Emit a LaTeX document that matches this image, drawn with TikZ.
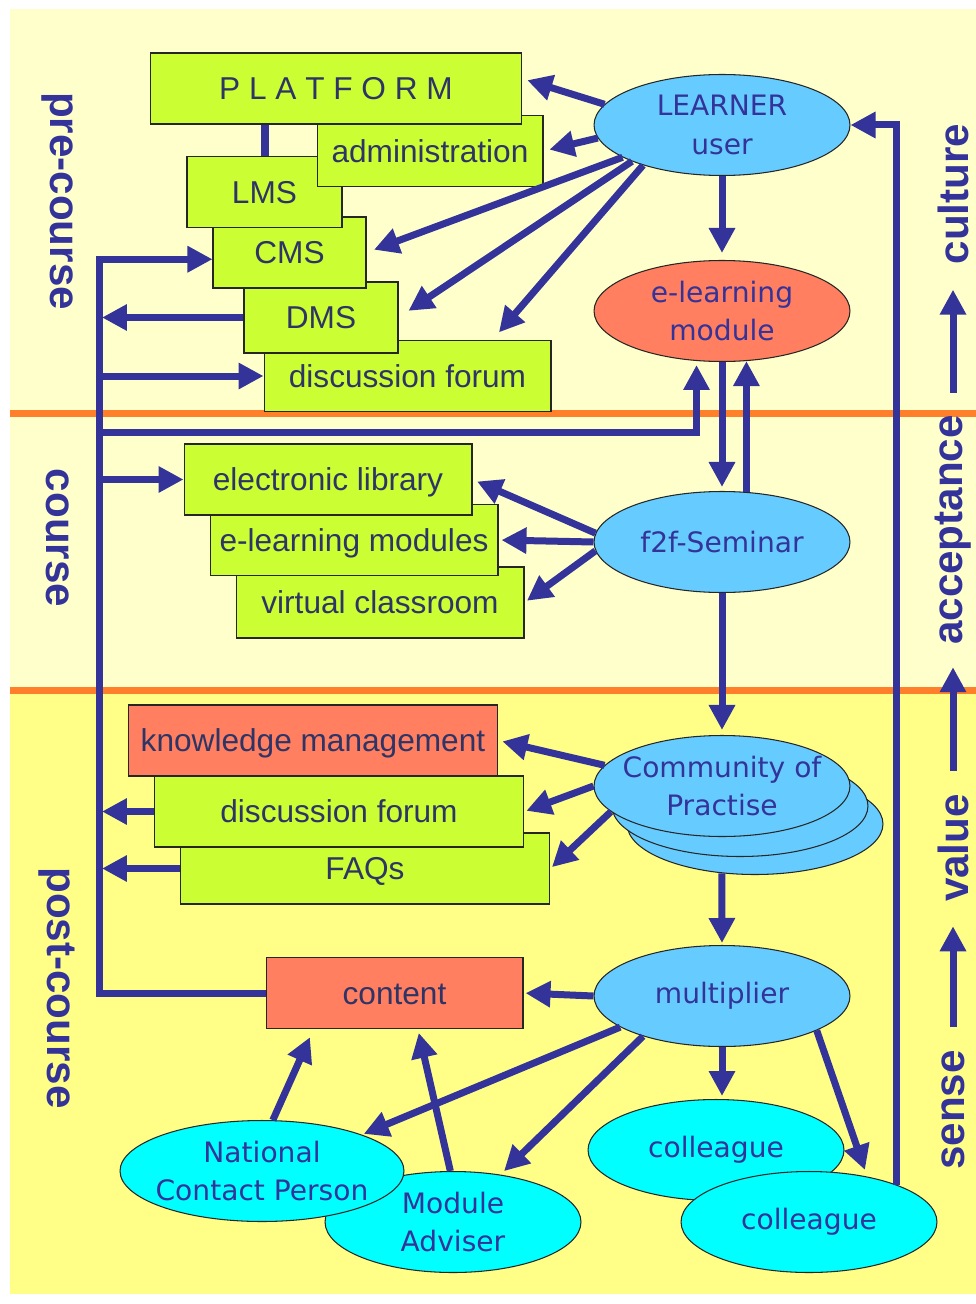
\documentclass[tikz,border=0pt]{standalone}
\usepackage{fontspec}
\setmainfont{Liberation Sans}
\newfontfamily\ovalfont{DejaVu Sans}
\usetikzlibrary{arrows.meta,shapes.geometric,calc}
\definecolor{flowblue}{HTML}{333399}
\definecolor{boxtext}{HTML}{2E3566}
\definecolor{limegreen}{HTML}{CCFF33}
\definecolor{coralbox}{HTML}{FF7F60}
\definecolor{skyoval}{HTML}{66CCFF}
\definecolor{aquaoval}{HTML}{00FFFF}
\definecolor{paleband}{HTML}{FFFFCC}
\definecolor{deepband}{HTML}{FFFF88}
\definecolor{divider}{HTML}{FF7F2A}

\begin{document}
\begin{tikzpicture}[
  x=0.02cm, y=-0.02cm,
  tool/.style={draw=black!85, fill=limegreen, line width=0.6pt, text=boxtext,
    font=\fontsize{18}{22}\selectfont, text height=13pt, text depth=0pt,
    inner sep=0pt, minimum height=1.42cm},
  hot/.style={tool, fill=coralbox},
  actor/.style={ellipse, draw=black!85, fill=skyoval, line width=0.6pt, text=flowblue,
    font=\ovalfont\fontsize{16}{22}\selectfont, align=center,
    inner xsep=-0.6cm, inner ysep=-0.1cm, minimum width=5.12cm, minimum height=2.02cm},
  guest/.style={actor, fill=aquaoval},
  flow/.style={draw=flowblue, line width=0.14cm, -{Triangle[length=0.5cm, width=0.5cm]}},
  phase/.style={text=flowblue, font=\fontsize{24}{28}\selectfont\bfseries, inner sep=0pt},
]
\useasboundingbox (0,0) rectangle (976,1304);
% page and the three bands
\fill[white] (0,0) rectangle (976,1304);
\fill[paleband] (10,9) rectangle (976,690);
\fill[deepband] (10,690) rectangle (976,1294);
\draw[divider, line width=0.14cm] (10,413) -- (976,413);
\draw[divider, line width=0.14cm] (10,690) -- (976,690);

% phases (left) and stages (right)
\node[phase, rotate=-90] (pre) at (57,201) {pre-course};
\node[phase, rotate=-90] (course) at (58,538) {course};
\node[phase, rotate=-90] (post) at (57,988) {post-course};
\node[phase, rotate=90] (culture) at (953,194) {culture};
\node[phase, rotate=90] (accept) at (953,530) {acceptance};
\node[phase, rotate=90] (value) at (953,848) {value};
\node[phase, rotate=90] (sense) at (953,1110) {sense};

% platform stack (back to front)
\node[tool, minimum width=5.74cm] (forumA) at (407.5,376) {discussion forum};
\node[tool, minimum width=3.08cm] (dms) at (321,317.5) {DMS};
\node[tool, minimum width=3.06cm] (cms) at (289.5,252.5) {CMS};
\node[tool, minimum width=3.10cm] (lms) at (264.5,192) {LMS};
\node[tool, minimum width=4.52cm] (admin) at (430,151) {administration};
\node[tool, minimum width=7.44cm] (platform) at (336,88.5) {P L A T F O R M};

% course stack
\node[tool, minimum width=5.76cm] (vclass) at (380,602.5) {virtual classroom};
\node[tool, minimum width=5.76cm] (elmods) at (354,540) {e-learning modules};
\node[tool, minimum width=5.76cm] (elib) at (328,479.5) {electronic library};

% post-course stack
\node[tool, minimum width=7.40cm] (faq) at (365,868.5) {FAQs};
\node[tool, minimum width=7.40cm] (forumB) at (339,811.5) {discussion forum};
\node[hot, minimum width=7.40cm] (km) at (313,740.5) {knowledge management};
\node[hot, minimum width=5.14cm] (content) at (394.5,993) {content};

% people and events
\node[actor] (learner) at (722,125) {LEARNER\\user};
\node[actor, fill=coralbox] (module) at (722,311) {e-learning\\module};
\node[actor] (seminar) at (722,542) {f2f-Seminar};
\node[actor] (cop3) at (755,824) {};
\node[actor] (cop2) at (740,806) {};
\node[actor] (cop) at (722,786) {Community of\\Practise};
\node[actor] (mult) at (722,996) {multiplier};
\node[guest] (peer1) at (716,1150) {colleague};
\node[guest] (peer2) at (809,1222) {colleague};
\node[guest] (adviser) at (453,1222) {Module\\Adviser};
\node[guest, minimum width=5.68cm] (ncp) at (262,1171) {National\\Contact Person};

\draw[flowblue, line width=0.16cm] (platform.south -| lms.north) -- (lms.north);

% learner fan
\draw[flow, shorten >=0.1cm] (learner.170) -- (platform.3);
\draw[flow, shorten >=0.12cm] (learner.186) -- (admin.east);
\draw[flow, shorten >=0.16cm] (learner.198) -- (cms.east);
\draw[flow, shorten >=0.24cm] (learner.202) -- (dms.east);
\draw[flow, shorten >=0.2cm] (learner.207) -- (forumA.23);
\draw[flow, shorten >=0.14cm] (learner.south) -- (module.north);
\draw[flow, shorten >=0.08cm] (module.south) -- (seminar.north);
\draw[flow] (seminar.64) -- (module.296);

% seminar fan
\draw[flow, shorten >=0.1cm] (seminar.176) -- (elib.east);
\draw[flow, shorten >=0.06cm] (seminar.west) -- (elmods.east);
\draw[flow, shorten >=0.06cm] (seminar.184) -- (vclass.east);
\draw[flow, shorten >=0.1cm] (seminar.south) -- (cop.north);

% community fan
\draw[flow, shorten >=0.08cm] (cop.170) -- (km.east);
\draw[flow, shorten >=0.04cm] (cop.west) -- (forumB.east);
\draw[flow, shorten >=0.04cm] (cop.193) -- (faq.east);
\draw[flow, shorten >=0.04cm] (cop3.236) -- (mult.north);

% multiplier fan
\draw[flow, shorten >=0.04cm] (mult.west) -- (content.east);
\draw[flow, shorten >=0.06cm] (mult.south) -- (mult.south |- peer1.north);
\draw[flow, shorten >=0.14cm] (mult.340) -- (peer2.38);
\draw[flow, shorten >=0.04cm] (mult.197) -- (ncp.20);
\draw[flow, shorten >=0.1cm] (mult.207) -- (adviser.45);
\draw[flow, shorten >=0.18cm] (ncp.78) -- (content.204);
\draw[flow, shorten >=0.08cm] (adviser.93) -- (content.303);

% content bus on the left
\coordinate (bus) at (99,993);
\coordinate (split) at (99,432);
\draw[flow] (content.west) -- (bus) |- (cms.185);
\draw[flow] (bus |- forumA.west) -- (forumA.west);
\draw[flow] (bus |- elib.west) -- (elib.west);
\draw[flow, shorten >=0.08cm] (split) -| (module.243);
\draw[flow, shorten >=0.06cm] (dms.west) -- (bus |- dms.west);
\draw[flow, shorten >=0.06cm] (forumB.west) -- (bus |- forumB.west);
\draw[flow, shorten >=0.06cm] (faq.west) -- (bus |- faq.west);

% colleagues back to the learner
\draw[flow] (peer2.23) |- (learner.east);

% stage arrows
\draw[flow, shorten <=0.44cm, shorten >=0.5cm] (accept.east) -- (culture.west);
\draw[flow, shorten <=0.46cm, shorten >=0.44cm] (value.east) -- (accept.west);
\draw[flow, shorten <=0.46cm, shorten >=0.48cm] (sense.east) -- (value.west);
\end{tikzpicture}
\end{document}
